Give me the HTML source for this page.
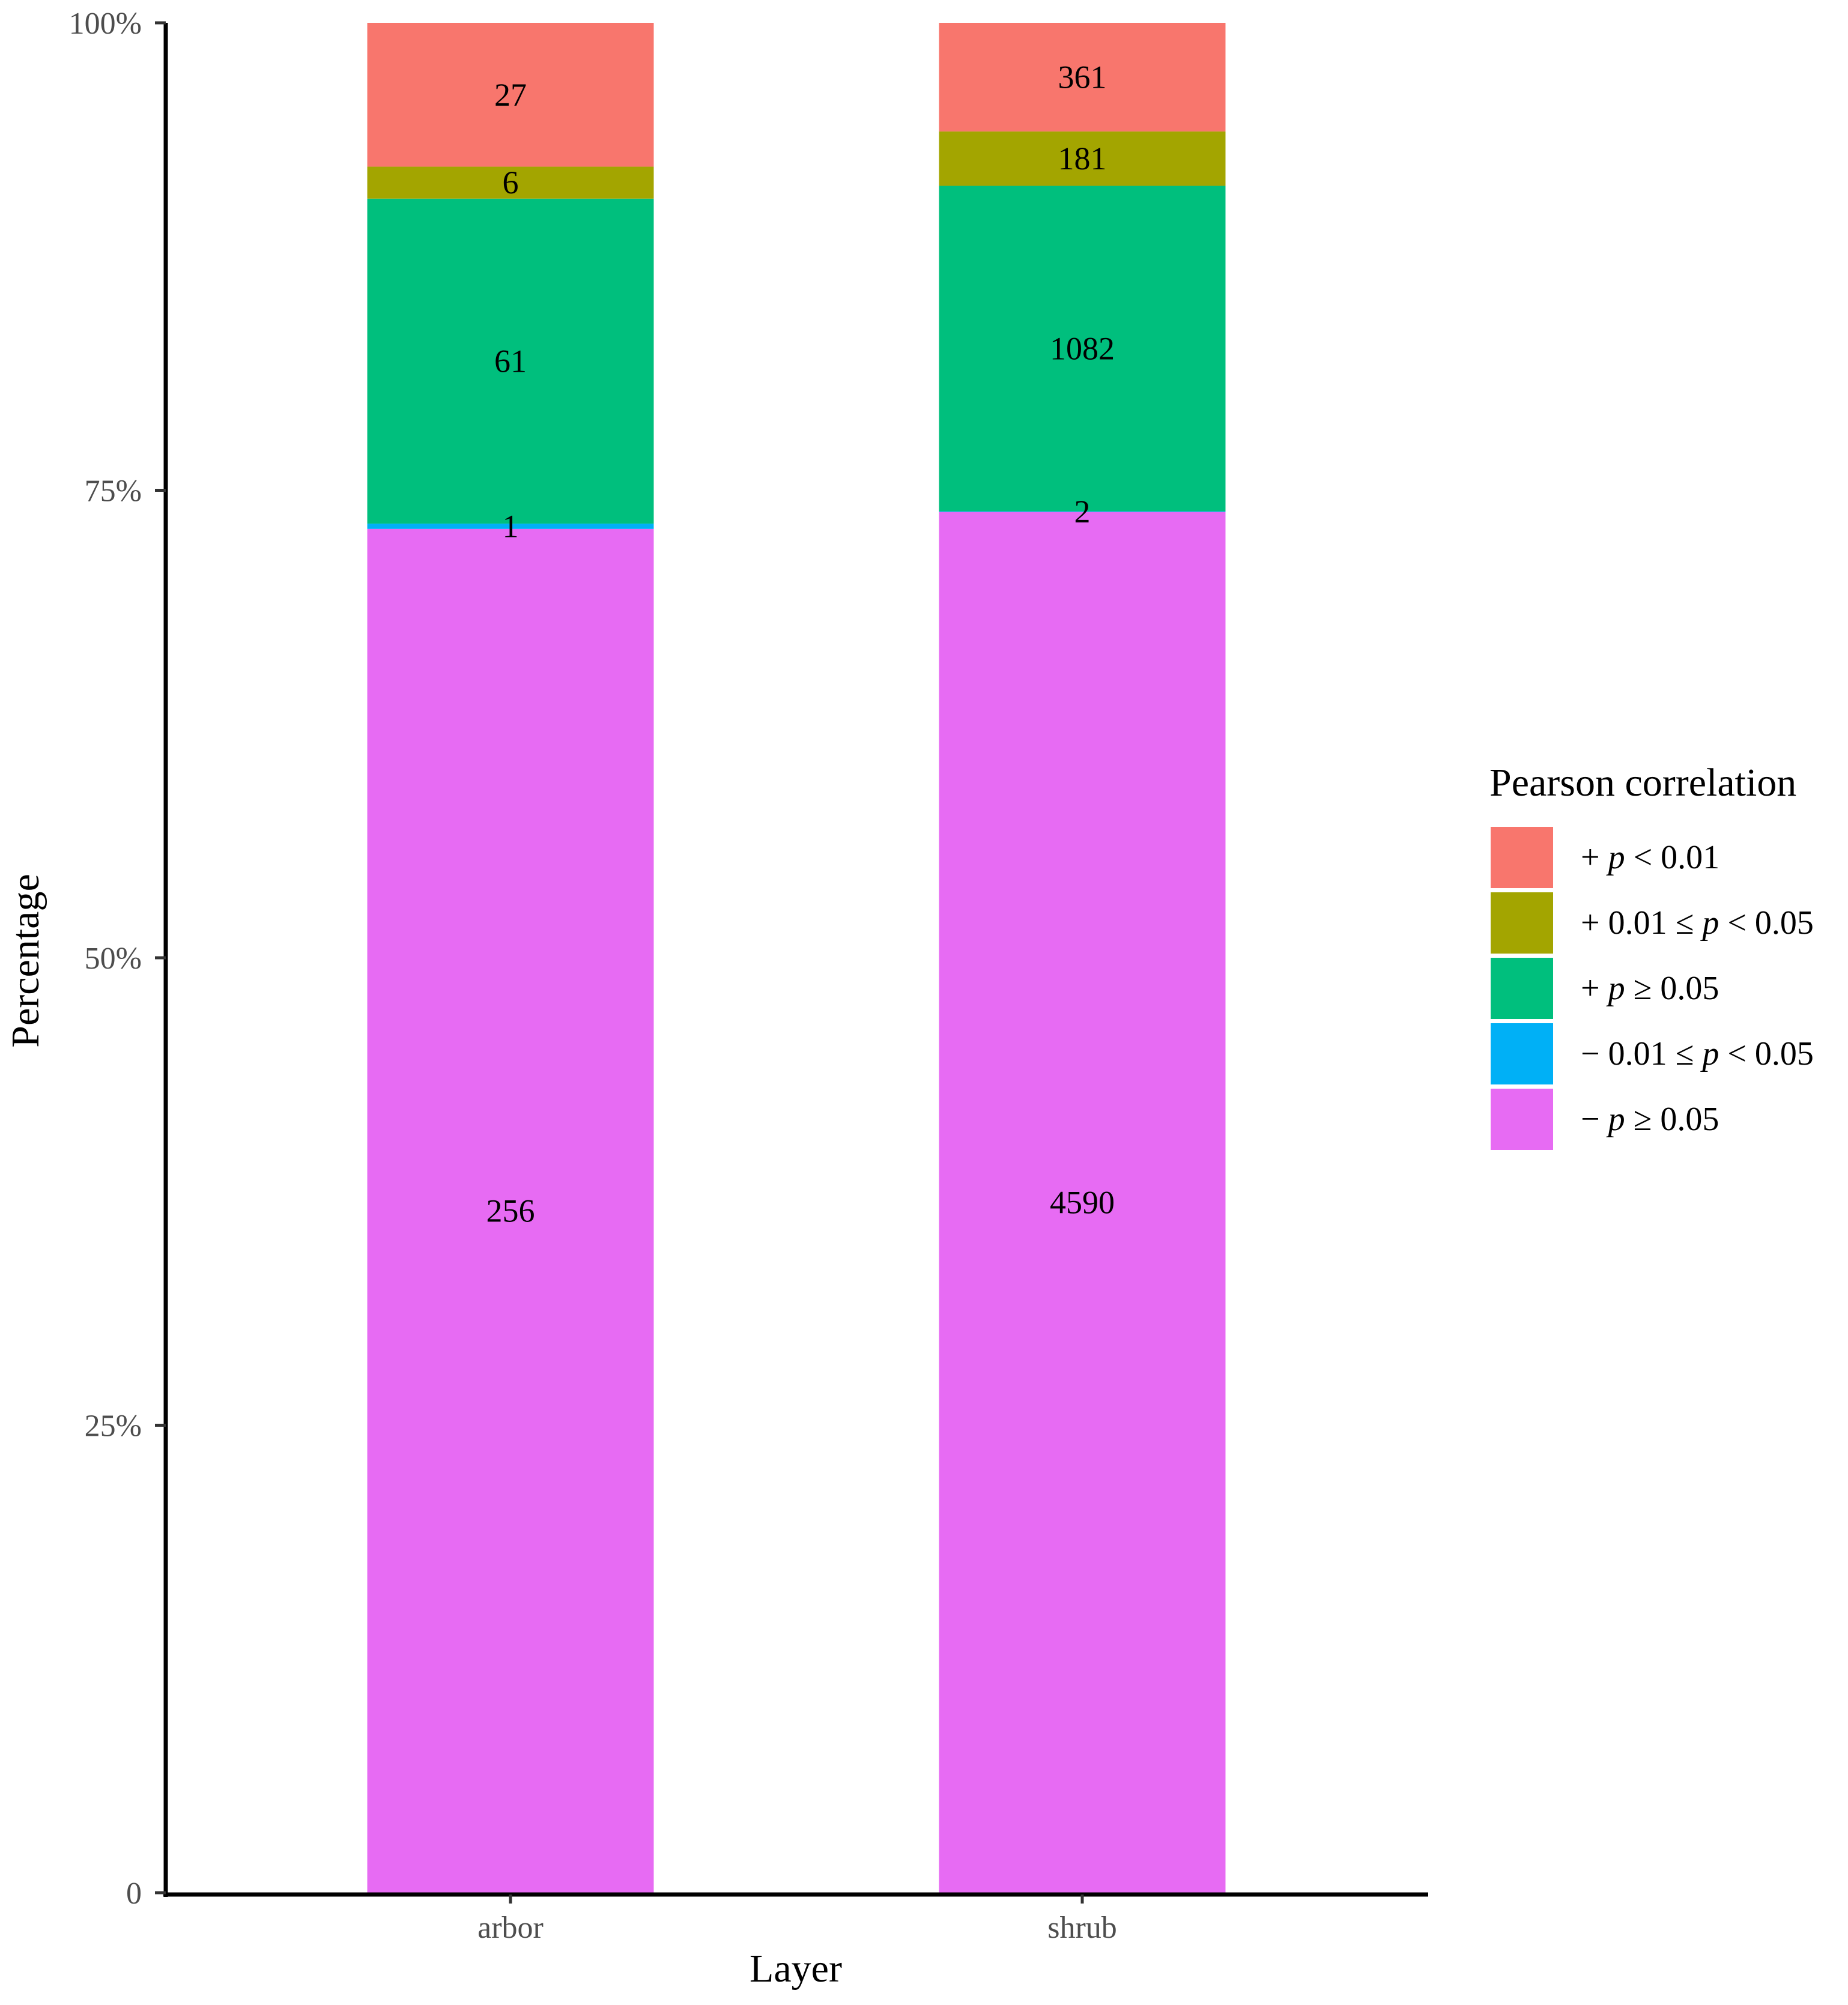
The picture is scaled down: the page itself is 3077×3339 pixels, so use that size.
<!DOCTYPE html>
<html><head><meta charset="utf-8"><style>
html,body{margin:0;padding:0;background:#fff}
svg{display:block;font-family:"Liberation Serif",serif}
</style></head><body>
<svg id="chart" width="3077" height="3339" viewBox="0 0 3077 3339" xmlns="http://www.w3.org/2000/svg">
<g id="bars"></g>
<g id="labels"></g>
<line x1="276" y1="38" x2="276" y2="3159" stroke="#000" stroke-width="7"/>
<line x1="272" y1="3155" x2="2378" y2="3155" stroke="#000" stroke-width="7"/>
<g id="yticks"></g>
<g id="xticks"></g>
<text transform="translate(64,1600) rotate(-90)" text-anchor="middle" font-size="66">Percentage</text>
<text x="1325" y="3300" text-anchor="middle" font-size="66">Layer</text>
<g id="legend">
<text x="2480" y="1325" font-size="66">Pearson correlation</text>
</g>
</svg>
<script>
const categories = ["arbor", "shrub"];
const seriesNames = ["− p≥0.05", "− 0.01≤p<0.05", "+ p≥0.05", "+ 0.01≤p<0.05", "+ p<0.01"];
const negHigh = [256, 4590];
const negMid = [1, 2];
const posHigh = [61, 1082];
const posMid = [6, 181];
const posLow = [27, 361];
const yTickValues = [0, 0.25, 0.5, 0.75, 1];
const yTickLabels = ["0", "25%", "50%", "75%", "100%"];

const colors = ["#E76BF3", "#00B0F6", "#00BF7D", "#A3A500", "#F8766D"];
const series = [negHigh, negMid, posHigh, posMid, posLow];
const NS = "http://www.w3.org/2000/svg";
const y0 = 3152, y1 = 38;
const yScale = v => y0 - v * (y0 - y1);
const xScale = c => 850 + categories.indexOf(c) * 952;
const barW = 477;
function mk(tag, attrs, parent) {
  const e = document.createElementNS(NS, tag);
  for (const k in attrs) e.setAttribute(k, attrs[k]);
  parent.appendChild(e);
  return e;
}
const gb = document.getElementById("bars"), gl = document.getElementById("labels");
categories.forEach((cat, i) => {
  const total = series.reduce((s, a) => s + a[i], 0);
  let cum = 0;
  series.forEach((arr, j) => {
    const v = arr[i] / total;
    const top = yScale(cum + v), bot = yScale(cum);
    const r = mk("rect", {x: xScale(cat) - barW / 2, y: top, width: barW, height: bot - top, fill: colors[j]}, gb);
    
    
    const t = mk("text", {x: xScale(cat), y: (top + bot) / 2 + 18, "text-anchor": "middle", "font-size": "54", fill: "#000"}, gl);
    t.textContent = arr[i];
    
    
    cum += v;
  });
});
const gy = document.getElementById("yticks");
yTickValues.forEach((v, i) => {
  const y = yScale(v);
  const l = mk("line", {x1: 258, x2: 276, y1: y, y2: y, stroke: "#333", "stroke-width": "5"}, gy);
  
  
  const t = mk("text", {x: 236, y: y + 18, "text-anchor": "end", "font-size": "52", fill: "#4d4d4d"}, gy);
  t.textContent = yTickLabels[i];
  
  
});
const gx = document.getElementById("xticks");
categories.forEach(cat => {
  const x = xScale(cat);
  const l = mk("line", {x1: x, x2: x, y1: 3155, y2: 3170, stroke: "#333", "stroke-width": "5"}, gx);
  
  
  const t = mk("text", {x: x, y: 3227, "text-anchor": "middle", "font-size": "52", fill: "#4d4d4d"}, gx);
  t.textContent = cat;
  
  
});
const leg = document.getElementById("legend");
const legendLabels = [
  ['+', '', 'p', ' < 0.01'],
  ['+', '0.01 ≤ ', 'p', ' < 0.05'],
  ['+', '', 'p', ' ≥ 0.05'],
  ['−', '0.01 ≤ ', 'p', ' < 0.05'],
  ['−', '', 'p', ' ≥ 0.05']
];
const legColors = [colors[4], colors[3], colors[2], colors[1], colors[0]];
legendLabels.forEach((lab, k) => {
  const top = 1377 + k * 109;
  const r = mk("rect", {x: 2482, y: top, width: 104, height: 102, fill: legColors[k]}, leg);
  
  
  const t = mk("text", {x: 2632, y: top + 69, "font-size": "56", fill: "#000"}, leg);
  
  
  const s1 = mk("tspan", {}, t); s1.textContent = lab[0] + "  " + lab[1];
  const s2 = mk("tspan", {"font-style": "italic"}, t); s2.textContent = lab[2];
  const s3 = mk("tspan", {}, t); s3.textContent = lab[3];
});
</script>
</body></html>
